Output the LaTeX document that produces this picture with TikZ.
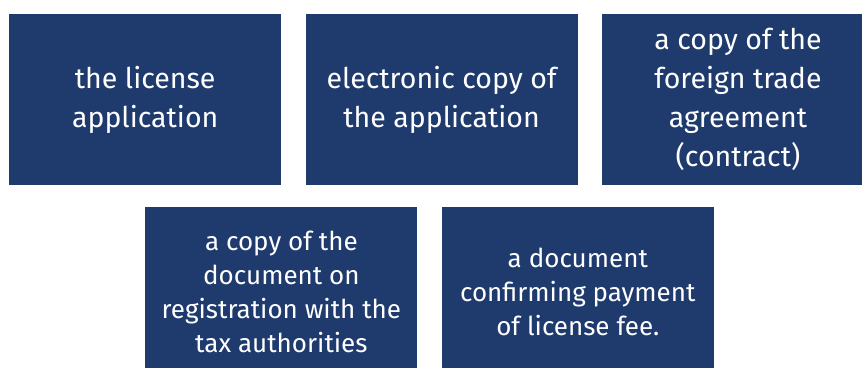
\documentclass[tikz,border=0pt]{standalone}
\usepackage{fontspec}
\setmainfont{Fira Sans}
\usetikzlibrary{positioning}
\definecolor{boxblue}{HTML}{1F3B6E}

\begin{document}
\begin{tikzpicture}[x=1pt,y=1pt,node distance=21pt and 24pt]
  % styles
  \tikzset{docbox/.style={rectangle,fill=boxblue,text=white,align=center,
      minimum width=272pt,minimum height=171pt,inner sep=0pt,
      font=\fontsize{28.5}{39}\selectfont}}
  \tikzset{docboxlow/.style={docbox,font=\fontsize{26}{34}\selectfont}}

  \useasboundingbox (0,0) rectangle (862,-367);
  \clip (0,0) rectangle (862,-367);

  % nodes
  \node[docbox,anchor=north west] (app) at (9,-14) {the license\\application};
  \node[docbox,right=of app] (ecopy) {electronic copy of\\the application};
  \node[docbox,right=of ecopy] (trade) {a copy of the\\foreign trade\\agreement\\(contract)};
  \node[docboxlow,below=21pt of app.south east,anchor=north] (tax) {a copy of the\\document on\\registration with the\\tax authorities};
  \node[docboxlow,right=of tax] (fee) {a document\\confirming payment\\of license fee.};
\end{tikzpicture}
\end{document}
